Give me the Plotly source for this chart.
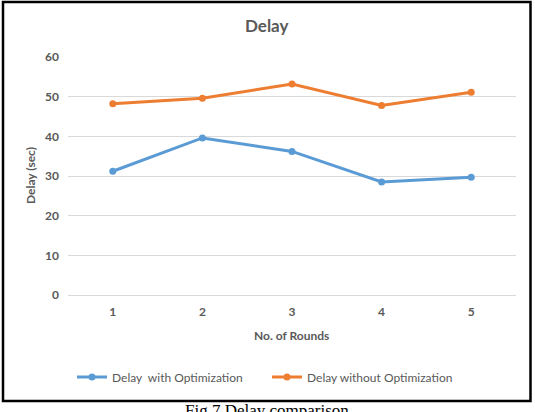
import plotly.graph_objects as go

rounds = ["1", "2", "3", "4", "5"]
delay_with_opt = [31.2, 39.6, 36.2, 28.5, 29.7]
delay_without_opt = [48.2, 49.6, 53.2, 47.8, 51.1]

W, H = 535, 412
L, R, T, B = 68, 19, 57, 117
pw, ph = W - L - R, H - T - B

def px(x):
    return (x - L) / pw

def py(y):
    return (H - B - y) / ph

gray = "#595959"
font_main = "Lato"

fig = go.Figure()
fig.add_trace(go.Scatter(
    x=rounds, y=delay_with_opt, mode="lines+markers",
    name="Delay  with Optimization",
    line=dict(color="#5B9BD5", width=3),
    marker=dict(size=7, color="#5B9BD5"),
))
fig.add_trace(go.Scatter(
    x=rounds, y=delay_without_opt, mode="lines+markers",
    name="Delay without Optimization",
    line=dict(color="#ED7D31", width=3),
    marker=dict(size=7, color="#ED7D31"),
))

fig.update_layout(
    width=W, height=H,
    margin=dict(l=L, r=R, t=T, b=B, pad=0),
    paper_bgcolor="white", plot_bgcolor="white",
    showlegend=True,
    legend=dict(orientation="h", x=px(72), xanchor="left", y=py(377), yanchor="middle",
                font=dict(family=font_main, size=12, color=gray),
                itemwidth=30, entrywidth=150, tracegroupgap=0, traceorder="normal"),
    xaxis=dict(type="category", range=[-0.5, 4.5], showgrid=False, showline=False,
               zeroline=False, ticks="", ticklabelstandoff=8,
               tickfont=dict(family=font_main, size=12, color=gray, weight="bold")),
    yaxis=dict(range=[0, 60], dtick=10, showgrid=True, gridcolor="#D9D9D9", gridwidth=1,
               zeroline=True, zerolinecolor="#D9D9D9", zerolinewidth=1,
               showline=False, ticks="", ticklabelstandoff=8,
               tickfont=dict(family=font_main, size=12, color=gray, weight="bold")),
    annotations=[
        dict(text="<b>Delay</b>", x=px(267), y=py(25), xref="paper", yref="paper",
             showarrow=False, font=dict(family=font_main, size=17, color=gray),
             xanchor="center", yanchor="middle"),
        dict(text="<b>Delay (sec)</b>", x=px(30), y=py(176), xref="paper", yref="paper",
             showarrow=False, textangle=-90, font=dict(family=font_main, size=12, color=gray),
             xanchor="center", yanchor="middle"),
        dict(text="<b>No. of Rounds</b>", x=px(291), y=py(335), xref="paper", yref="paper",
             showarrow=False, font=dict(family=font_main, size=12, color=gray),
             xanchor="center", yanchor="middle"),
        dict(text="Fig.7 Delay comparison", x=px(267), y=py(399), xref="paper", yref="paper",
             showarrow=False, font=dict(family="Liberation Serif", size=17, color="black"),
             xanchor="center", yanchor="top"),
    ],
    shapes=[
        dict(type="rect", xref="paper", yref="paper",
             x0=px(3), x1=px(530.5), y0=py(401), y1=py(2),
             line=dict(color="black", width=2.5), fillcolor="rgba(0,0,0,0)", layer="above"),
    ],
)

fig.write_html("out.html", config={"displayModeBar": False})
